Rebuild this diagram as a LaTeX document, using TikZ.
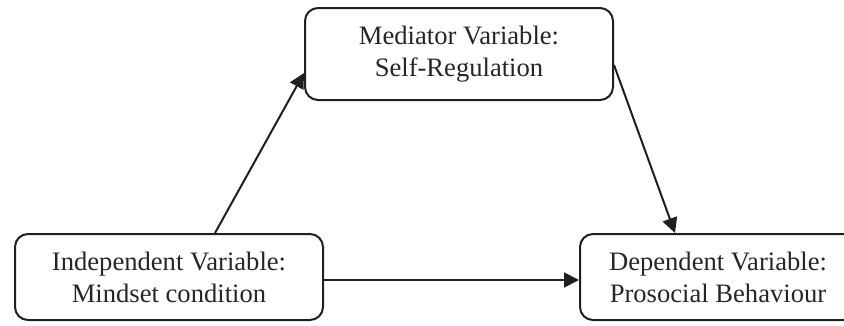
\documentclass[tikz,border=0pt]{standalone}
\usepackage{fontspec}
\setmainfont{Liberation Serif}
\usetikzlibrary{arrows.meta,calc}
\begin{document}
\begin{tikzpicture}[x=1pt,y=1pt,
  varbox/.style={draw=black!88, line width=2pt, rounded corners=13pt, align=center,
    inner sep=0pt, font=\fontsize{26.6}{32}\selectfont, text=black!85},
  link/.style={draw=black!88, line width=2pt, -{Triangle[length=15pt,width=15pt]}}]
\useasboundingbox (0,0) rectangle (844,325);
\node[varbox, minimum width=308pt, minimum height=86pt] (ind) at (169,48)
  {Independent Variable:\\Mindset condition};
\node[varbox, minimum width=308pt, minimum height=92pt] (med) at (459,271)
  {Mediator Variable:\\Self-Regulation};
\node[varbox, minimum width=276pt, minimum height=86pt] (dep) at (718,48)
  {Dependent Variable:\\Prosocial Behaviour};
\draw[link] ([xshift=46pt]ind.north) -- ([yshift=-19pt]med.west);
\draw[link] ([yshift=-11pt]med.east) -- ([xshift=-43pt]dep.north);
\draw[link] ([yshift=-3pt]ind.east) -- ([yshift=-3pt]dep.west);
\end{tikzpicture}
\end{document}
